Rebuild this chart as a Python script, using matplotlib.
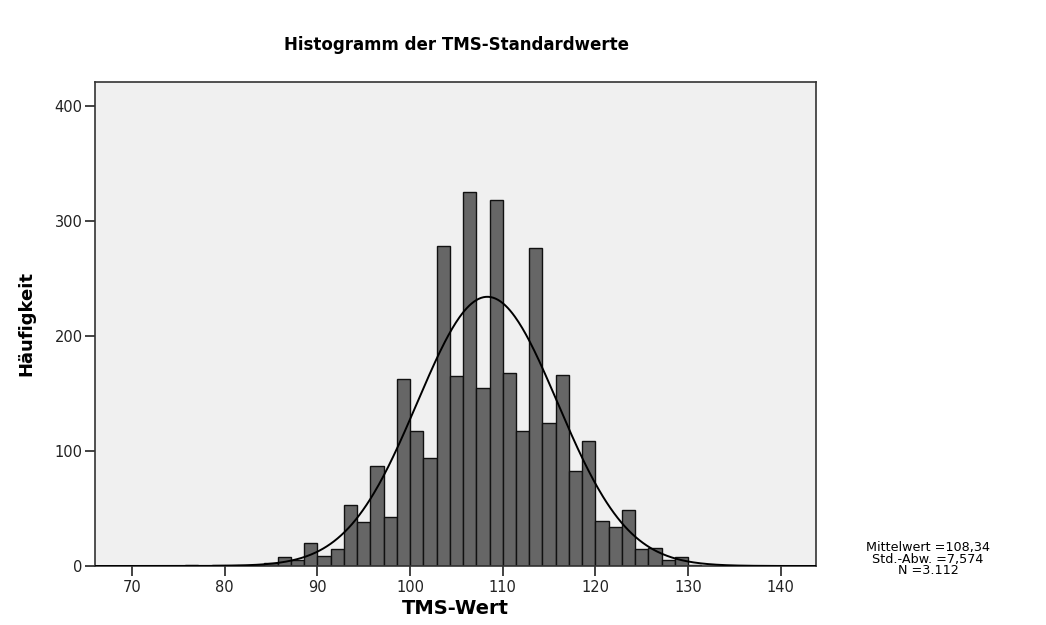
import numpy as np
import matplotlib
matplotlib.use("Agg")
import matplotlib.pyplot as plt

plt.rcParams['font.family'] = ['DejaVu Sans']

# Histogram data (SPSS output): bin width 10/7, first bin starts at 100 - 17 * 10/7
bin_width = 10 / 7
bin_start = 100 - 17 * bin_width
counts = [1, 0, 1, 1, 1, 1, 3, 8, 5, 20, 9, 15, 53, 38, 87, 43, 163,
          117, 94, 278, 165, 325, 155, 318, 168, 117, 277, 124, 166, 83, 109,
          39, 34, 49, 15, 16, 5, 8, 1]

mean = 108.34
std = 7.574
n_total = 3112

x_ticks = [70, 80, 90, 100, 110, 120, 130, 140]
y_ticks = [0, 100, 200, 300, 400]

fig = plt.figure(figsize=(10.46, 6.25), dpi=100, facecolor='white')
ax = fig.add_axes([95 / 1046, 1 - 566 / 625, (816 - 95) / 1046, (566 - 82) / 625])
ax.set_facecolor('#f0f0f0')

lefts = bin_start + bin_width * np.arange(len(counts))
ax.bar(lefts, counts, width=bin_width, align='edge', color='#666666',
       edgecolor='#111111', linewidth=1.0, zorder=2)

# normal curve scaled to counts
xs = np.linspace(66, 144, 600)
ys = n_total * bin_width / (std * np.sqrt(2 * np.pi)) * np.exp(-0.5 * ((xs - mean) / std) ** 2)
ax.plot(xs, ys, color='black', lw=1.4, zorder=3)

ax.set_xlim(66, 143.8)
ax.set_ylim(0, 421)
ax.set_xticks(x_ticks)
ax.set_yticks(y_ticks)
ax.tick_params(direction='out', length=7, width=1.2, colors='#222222',
               labelsize=10.5, pad=2)
ax.tick_params(axis='x', pad=3)
for s in ax.spines.values():
    s.set_color('#333333')
    s.set_linewidth(1.2)

ax.set_xlabel('TMS-Wert', fontsize=14, fontweight='bold', labelpad=3)
ax.set_ylabel('Häufigkeit', fontsize=13, fontweight='bold', labelpad=14)

fig.text(457 / 1046, 1 - 45 / 625, 'Histogramm der TMS-Standardwerte',
         ha='center', va='center', fontsize=12, fontweight='bold')

stats = 'Mittelwert =108,34\nStd.-Abw. =7,574\nN =3.112'
fig.text(928 / 1046, 1 - 559 / 625, stats, ha='center', va='center',
         fontsize=9.2, linespacing=0.85)

fig.savefig('out.png', dpi=100)
